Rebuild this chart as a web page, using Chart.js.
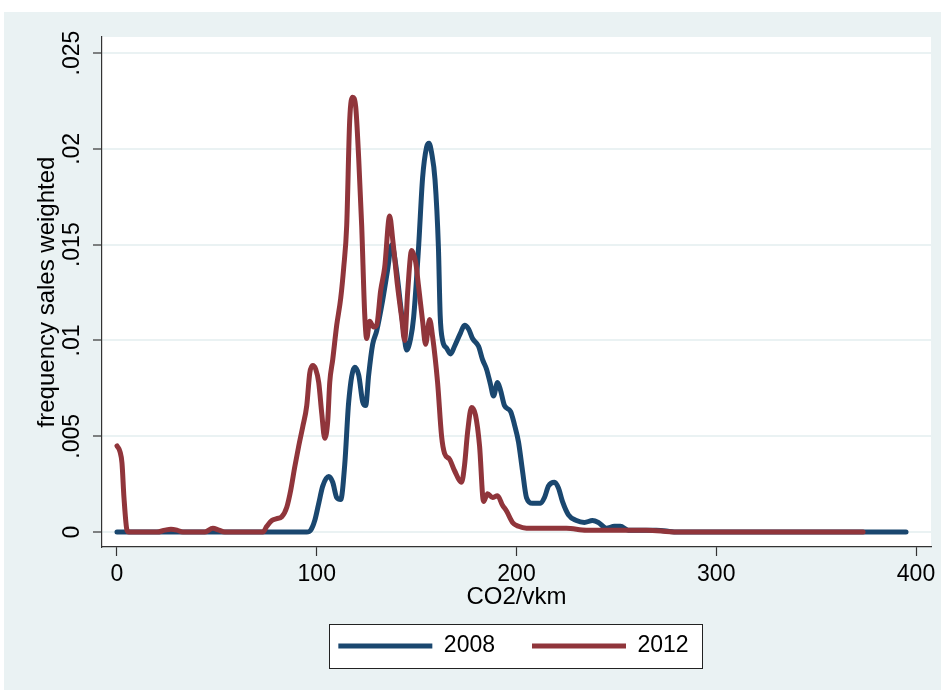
<!DOCTYPE html>
<html>
<head>
<meta charset="utf-8">
<title>CO2/vkm sales weighted frequency</title>
<script src="https://cdn.jsdelivr.net/npm/chart.js@4.4.1/dist/chart.umd.min.js"></script>
<style>
  html, body { margin: 0; padding: 0; background: #fff; }
  #wrap { width: 945px; height: 693px; }
</style>
</head>
<body>
<div id="wrap"><canvas id="myChart" width="945" height="693"></canvas></div>
<script>
// values (kernel density, sales weighted)
const co2_2008 = [0, 50, 95, 97, 99, 101, 103, 106, 108, 110, 112, 114, 116, 119, 121, 123, 124.5, 126, 128, 130,
  133, 135.5, 137.5, 140, 142, 143.5, 145, 147, 148.5, 151, 153, 155, 156.2, 157.5, 159.2, 160.9, 161.8, 163, 165, 167,
  169, 172, 174, 176, 178, 181, 183, 185, 187, 188.5, 190.5, 192, 194, 197, 199, 201, 203, 205, 208, 212,
  214, 216, 219, 221, 223, 226, 230, 234, 238, 241, 245, 249, 252, 256, 270, 280, 395];
const freq_2008 = [0, 0, 0, 0.0001, 0.0006, 0.0015, 0.0024, 0.0029, 0.0026, 0.0018, 0.0017, 0.0035, 0.0068, 0.0086, 0.0082, 0.0068, 0.0066, 0.0082, 0.0098, 0.0105,
  0.0121, 0.0137, 0.0150, 0.0136, 0.0118, 0.0105, 0.0095, 0.0101, 0.0112, 0.0149, 0.0185, 0.0201, 0.0203, 0.0198, 0.0184, 0.0149, 0.0113, 0.0100, 0.0096, 0.0093,
  0.0097, 0.0104, 0.0108, 0.0106, 0.0101, 0.0097, 0.0090, 0.0085, 0.0077, 0.0071, 0.0078, 0.0074, 0.0066, 0.0063, 0.0056, 0.0047, 0.0032, 0.0018, 0.0015, 0.0015,
  0.0018, 0.0024, 0.0026, 0.0023, 0.0016, 0.0009, 0.0006, 0.0005, 0.0006, 0.0005, 0.0002, 0.0003, 0.0003, 0.0001, 0.0001, 0, 0];

const co2_2012 = [0, 1.5, 2.5, 3.5, 5, 6, 20, 24, 27, 30, 33, 44, 48, 51, 54, 73, 75, 77.5, 80, 82.5,
  85, 87, 89, 91, 93, 95, 96.5, 98, 99.5, 101, 102.5, 104, 105.5, 106.5, 108, 110, 112, 113.5, 115, 116.5,
  118, 119.5, 121, 122.5, 124, 125, 126.5, 128.5, 130, 132, 134, 136.5, 138, 140.5, 142.5, 144, 145.5, 147.5, 149.5, 151,
  153, 154.5, 156.5, 158, 160.5, 162.5, 164, 166.5, 169, 172.5, 174, 175.5, 177.5, 179.5, 181.5, 183.5, 185.5, 188, 190.5, 193,
  195, 198, 201, 205, 215, 225, 235, 250, 265, 280, 373.5];
const freq_2012 = [0.0045, 0.0042, 0.0036, 0.0018, 0.0001, 0, 0, 0.0001, 0.00015, 0.0001, 0, 0, 0.0002, 0.0001, 0, 0, 0.0003, 0.0006, 0.0007, 0.0008,
  0.0013, 0.0022, 0.0034, 0.0045, 0.0055, 0.0066, 0.0083, 0.0087, 0.0085, 0.0078, 0.0062, 0.0049, 0.0058, 0.0078, 0.0090, 0.0108, 0.0122, 0.0138, 0.0160, 0.0215,
  0.0227, 0.0222, 0.0195, 0.0160, 0.0114, 0.0101, 0.0110, 0.0107, 0.0108, 0.0126, 0.0138, 0.0165, 0.0153, 0.0128, 0.0112, 0.0100, 0.0125, 0.0147, 0.0141, 0.0128,
  0.0110, 0.0098, 0.0111, 0.0102, 0.0078, 0.0050, 0.0041, 0.0038, 0.0032, 0.0026, 0.0035, 0.0052, 0.0065, 0.0061, 0.0045, 0.0016, 0.0020, 0.0018, 0.0019, 0.0014,
  0.0011, 0.0005, 0.0003, 0.0002, 0.0002, 0.0002, 0.0001, 0.0001, 0.0001, 0, 0];

const seriesLabels = ['2008', '2012'];
const xTicks = [0, 100, 200, 300, 400];
const yTicks = [0, 0.005, 0.01, 0.015, 0.02, 0.025];
const yTickLabels = ['0', '.005', '.01', '.015', '.02', '.025'];

const FONT = "'Liberation Sans', Arial, sans-serif";
const NAVY = '#1a476f';
const MAROON = '#90353b';
const PANEL = '#eaf2f3';
const AXIS = '#333333';

const toPoints = (xs, ys) => xs.map((x, i) => ({x: x, y: ys[i]}));

// stata look: light panel, white plot region, boxed legend
const stataLook = {
  id: 'stataLook',
  afterLayout(chart) {
    const lg = chart.legend;
    const dx = 513.5 - (lg.left + lg.right) / 2;
    lg.left += dx; lg.right += dx;
    lg.top = 597.5;
    lg.bottom = chart.height;
  },
  beforeDraw(chart) {
    const {ctx, chartArea: a} = chart;
    ctx.save();
    ctx.fillStyle = '#ffffff';
    ctx.fillRect(0, 0, chart.width, chart.height);
    ctx.fillStyle = PANEL;
    ctx.fillRect(4, 12, 937, 678);
    ctx.fillStyle = '#ffffff';
    ctx.fillRect(a.left, a.top, a.right - a.left, a.bottom - a.top);

    const hb = chart.legend.legendHitBoxes;
    if (hb && hb.length) {
      const first = hb[0], last = hb[hb.length - 1];
      const cy = first.top + first.height / 2;
      const x0 = first.left - 9, x1 = last.left + last.width + 14;
      ctx.fillRect(x0, cy - 22, x1 - x0, 44);
      ctx.strokeStyle = '#222';
      ctx.lineWidth = 1;
      ctx.strokeRect(Math.round(x0) + 0.5, Math.round(cy - 22) + 0.5, Math.round(x1 - x0), 44);
    }
    ctx.restore();
  }
};

new Chart(document.getElementById('myChart'), {
  type: 'line',
  data: {
    datasets: [{
      label: seriesLabels[0],
      data: toPoints(co2_2008, freq_2008),
      borderColor: NAVY,
      backgroundColor: NAVY,
      borderWidth: 5,
      borderCapStyle: 'round',
      borderJoinStyle: 'round',
      pointRadius: 0,
      cubicInterpolationMode: 'monotone',
      order: 1
    }, {
      label: seriesLabels[1],
      data: toPoints(co2_2012, freq_2012),
      borderColor: MAROON,
      backgroundColor: MAROON,
      borderWidth: 5,
      borderCapStyle: 'round',
      borderJoinStyle: 'round',
      pointRadius: 0,
      cubicInterpolationMode: 'monotone',
      order: 0
    }]
  },
  options: {
    responsive: false,
    animation: false,
    events: [],
    layout: {padding: {top: 37, left: 0, right: 14, bottom: 0}},
    plugins: {
      tooltip: {enabled: false},
      legend: {
        position: 'bottom',
        maxHeight: 40,
        labels: {
          usePointStyle: true,
          pointStyle: 'line',
          pointStyleWidth: 94,
          padding: 37,
          color: '#000',
          font: {family: FONT, size: 23},
          sort: (a, b) => a.datasetIndex - b.datasetIndex
        }
      }
    },
    scales: {
      x: {
        type: 'linear',
        min: -7.5,
        max: 407.5,
        afterBuildTicks: s => { s.ticks = xTicks.map(v => ({value: v})); },
        afterFit: s => { s.height = 106; },
        grid: {drawOnChartArea: false, drawTicks: true, tickLength: 9, tickColor: AXIS, tickWidth: 1.2},
        border: {display: true, color: AXIS, width: 1.2},
        ticks: {color: '#000', font: {family: FONT, size: 23}, padding: 5, autoSkip: false, maxRotation: 0},
        title: {display: true, text: 'CO2/vkm', color: '#000', font: {family: FONT, size: 24}, padding: {top: 0, bottom: 41.6}}
      },
      y: {
        type: 'linear',
        min: -0.00078,
        max: 0.02584,
        afterBuildTicks: s => { s.ticks = yTicks.map(v => ({value: v})); },
        afterFit: s => { s.width = 102; },
        grid: {color: PANEL, lineWidth: 2, drawTicks: true, tickLength: 9, tickColor: AXIS, tickWidth: 1.2},
        border: {display: true, color: AXIS, width: 1.2},
        ticks: {
          color: '#000',
          font: {family: FONT, size: 23},
          padding: -2,
          minRotation: 90,
          maxRotation: 90,
          crossAlign: 'center',
          autoSkip: false,
          callback: v => yTickLabels[yTicks.indexOf(v)]
        },
        title: {display: true, text: 'frequency sales weighted', color: '#000', font: {family: FONT, size: 24}, padding: {top: 32.6, bottom: 0}}
      }
    }
  },
  plugins: [stataLook]
});
</script>
</body>
</html>
